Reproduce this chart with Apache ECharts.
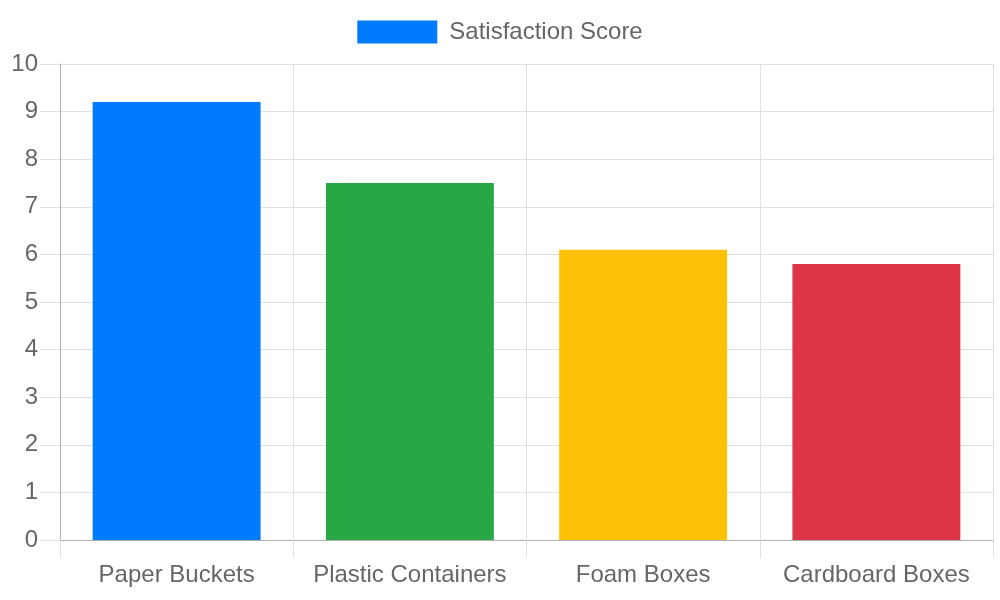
<!DOCTYPE html>
<html>
<head>
<meta charset="utf-8">
<script src="https://cdn.jsdelivr.net/npm/echarts@6/dist/echarts.min.js"></script>
<style>
  html, body { margin: 0; padding: 0; background: #fff; }
  #main { width: 1000px; height: 600px; }
</style>
</head>
<body>
<div id="main"></div>
<script>
// chart data
var categories = ['Paper Buckets', 'Plastic Containers', 'Foam Boxes', 'Cardboard Boxes'];
var scores = [9.2, 7.5, 6.1, 5.8];
var barColors = ['#007bff', '#28a745', '#ffc107', '#dc3545'];
var seriesName = 'Satisfaction Score';

var chart = echarts.init(document.getElementById('main'));
var font = '"Liberation Sans", Arial, sans-serif';

var option = {
  animation: false,
  textStyle: { fontFamily: font },
  legend: {
    top: 15,
    left: 'center',
    itemWidth: 80,
    itemHeight: 23,
    icon: 'rect',
    textStyle: { color: '#666', fontSize: 24, fontFamily: font, padding: [0, 0, 0, 7] },
    data: [seriesName]
  },
  grid: { left: 60, right: 7, top: 64, bottom: 60, containLabel: false },
  xAxis: {
    type: 'category',
    data: categories,
    axisLine: { show: true, lineStyle: { color: '#b0b0b0', width: 1 } },
    axisTick: { show: true, length: 18, interval: 0, lineStyle: { color: '#e0e0e0' } },
    axisLabel: { color: '#666', fontSize: 24, fontFamily: font, margin: 23, interval: 0 },
    splitLine: { show: true, interval: 0, lineStyle: { color: '#e0e0e0' } }
  },
  yAxis: {
    type: 'value',
    min: 0,
    max: 10,
    interval: 1,
    axisLine: { show: true, lineStyle: { color: '#b0b0b0', width: 1 } },
    axisTick: { show: true, length: 20, lineStyle: { color: '#e0e0e0' } },
    axisLabel: { color: '#666', fontSize: 24, fontFamily: font, margin: 22 },
    splitLine: { show: true, lineStyle: { color: '#e0e0e0' } }
  },
  series: [{
    name: seriesName,
    type: 'bar',
    barCategoryGap: '28%',
    itemStyle: { color: barColors[0] },
    data: scores.map(function (v, i) {
      return { value: v, itemStyle: { color: barColors[i] } };
    })
  }]
};

chart.setOption(option);
</script>
</body>
</html>
